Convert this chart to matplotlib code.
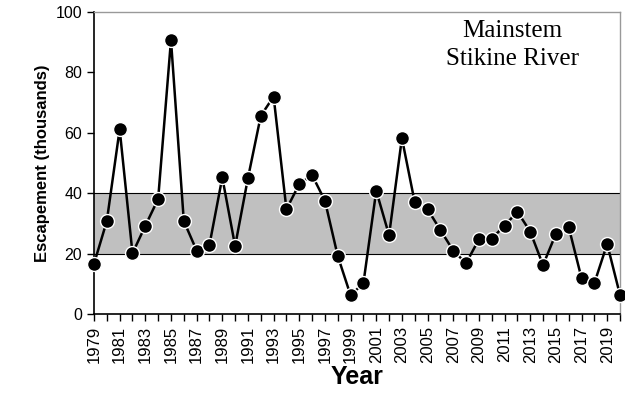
import matplotlib
matplotlib.use("Agg")
import matplotlib.pyplot as plt

years = list(range(1979, 2021))
escapement = [16.6, 30.8, 61.2, 20.1, 29.2, 38.1, 90.7, 30.8, 21.0, 22.9,
              45.2, 22.5, 45.0, 65.6, 72.0, 34.7, 43.0, 46.0, 37.5, 19.2,
              6.2, 10.2, 40.8, 26.1, 58.2, 37.0, 34.7, 27.8, 21.0, 16.8,
              24.7, 25.0, 29.2, 33.9, 27.3, 16.2, 26.5, 28.8, 11.9, 10.2,
              23.2, 6.3]
goal_low = 20
goal_high = 40
tick_years = list(range(1979, 2021, 2))
label = "Mainstem\nStikine River"

plt.rcParams["font.family"] = ["Liberation Sans", "DejaVu Sans"]

fig = plt.figure(figsize=(6.25, 4), dpi=100)
ax = fig.add_axes([94 / 625, 86 / 400, 526 / 625, 302 / 400])

# escapement goal range
ax.axhspan(goal_low, goal_high, facecolor="#c0c0c0", edgecolor="none", zorder=1)
ax.axhline(goal_low, color="black", lw=0.8, zorder=2)
ax.axhline(goal_high, color="black", lw=0.8, zorder=2)

ax.plot(years, escapement, color="black", lw=1.8, marker="o", markersize=10,
        markerfacecolor="black", markeredgecolor="white", markeredgewidth=1.0,
        clip_on=False, zorder=3)

ax.set_xlim(1979, 2020)
ax.set_ylim(0, 100)
ax.set_yticks([0, 20, 40, 60, 80, 100])
ax.set_xticks(tick_years)
ax.set_xticks(years, minor=True)
ax.set_xticklabels([str(y) for y in tick_years], rotation=90, fontsize=12)
ax.tick_params(axis="y", labelsize=11.5, direction="out", length=5, width=1)
ax.tick_params(axis="x", which="both", direction="out", length=5, width=1)

for s in ["left", "bottom"]:
    ax.spines[s].set_color("black")
    ax.spines[s].set_linewidth(1.2)
for s in ["top", "right"]:
    ax.spines[s].set_color("#999999")
    ax.spines[s].set_linewidth(1.0)

ax.set_ylabel("Escapement (thousands)", fontsize=12, fontweight="bold")
ax.set_xlabel("Year", fontsize=18, fontweight="bold", labelpad=1)

ax.text(0.795, 0.975, label, transform=ax.transAxes, ha="center", va="top",
        fontsize=18, family="Liberation Serif", linespacing=1.4)

fig.savefig("out.png", dpi=100)
